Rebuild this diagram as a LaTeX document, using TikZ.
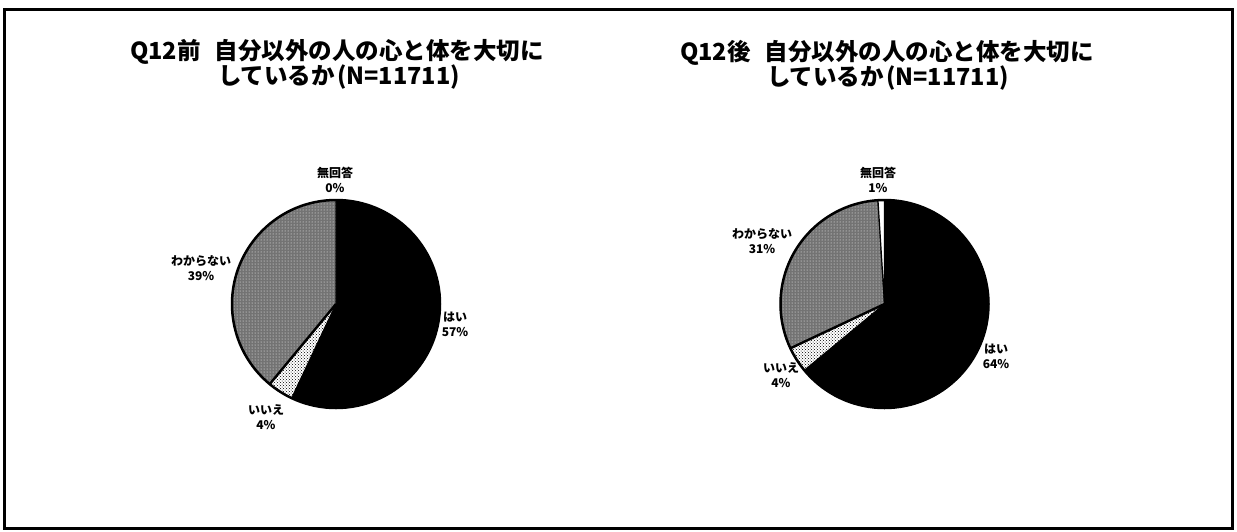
\documentclass[tikz,border=0pt]{standalone}
\usepackage{fontspec}
\newfontfamily\jp{Noto Sans CJK JP}
\usetikzlibrary{patterns}
\tikzset{
  ttl/.style={font=\jp\bfseries\fontsize{23.5}{25}\selectfont, inner sep=0pt},
  lbl/.style={font=\jp\bfseries\fontsize{12}{15}\selectfont, align=center, inner sep=0pt},
  yesfill/.style={fill=black, draw=black, line width=1.2pt},
  nofill/.style={fill=white, draw=black, line width=1.2pt, postaction={pattern=crosshatch dots, pattern color=black}},
  dkfill/.style={fill=black!55, draw=black, line width=1.2pt, postaction={pattern=dots, pattern color=white}},
  nafill/.style={fill=white, draw=black, line width=1.2pt},
  rim/.style={draw=black, line width=2.5pt},
  sep/.style={draw=black, line width=2.4pt},
  frame/.style={draw=black, line width=3pt}
}
\newcommand\pieslice[4]{\path[#4] (#1) -- ++(#2:104pt) arc[start angle=#2, end angle=#3, radius=104pt] -- cycle;}
\begin{document}
\begin{tikzpicture}[x=1pt,y=1pt]
\useasboundingbox (0,0) rectangle (1237,-531);
\fill[white] (0,0) rectangle (1237,-531);
\draw[frame] (4.5,-9) rectangle (1232.5,-528.5);

% ---------- left chart ----------
\coordinate (cL) at (336,-304);
\node[ttl] (tL1) at (337,-52) {Q12前\hspace{0.6em}自分以外の人の心と体を大切に};
\node[ttl] (tL2) at (339,-77) {しているか\hspace{0.1em}(N=11711)};
\pieslice{cL}{90}{-115.2}{yesfill}
\pieslice{cL}{-115.2}{-129.6}{nofill}
\pieslice{cL}{-129.6}{-270}{dkfill}
\draw[sep] (cL) -- ++(-129.6:104pt);
\draw[rim] (cL) circle[radius=104pt];
\node[lbl] (naL) at (335,-179.5) {無回答\\0\%};
\node[lbl] (dkL) at (201,-268) {わからない\\39\%};
\node[lbl] (noL) at (266,-417) {いいえ\\4\%};
\node[lbl] (yesL) at (455,-324) {はい\\57\%};

% ---------- right chart ----------
\coordinate (cR) at (884.5,-304);
\node[ttl] (tR1) at (887,-53) {Q12後\hspace{0.6em}自分以外の人の心と体を大切に};
\node[ttl] (tR2) at (888,-78) {しているか\hspace{0.1em}(N=11711)};
\pieslice{cR}{90}{-140.4}{yesfill}
\pieslice{cR}{-140.4}{-154.8}{nofill}
\pieslice{cR}{-154.8}{-266.4}{dkfill}
\pieslice{cR}{-266.4}{-270}{nafill}
\draw[sep] (cR) -- ++(-154.8:104pt);
\draw[rim] (cR) circle[radius=104pt];
\node[lbl] (naR) at (878,-179.5) {無回答\\1\%};
\node[lbl] (dkR) at (762,-241) {わからない\\31\%};
\node[lbl] (noR) at (781,-375.5) {いいえ\\4\%};
\node[lbl] (yesR) at (996,-356) {はい\\64\%};
\end{tikzpicture}
\end{document}
